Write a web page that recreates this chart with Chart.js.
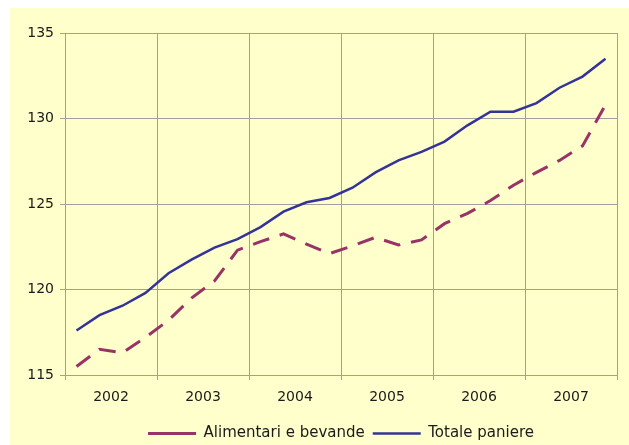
<!DOCTYPE html>
<html>
<head>
<meta charset="utf-8">
<script src="https://cdn.jsdelivr.net/npm/chart.js@4"></script>
<style>
  html, body { margin: 0; padding: 0; background: #ffffff; }
  #wrap { position: absolute; left: 10px; top: 8px; width: 619px; height: 437px; background: #FFFFCC; }
</style>
</head>
<body>
<div id="wrap"><canvas id="c" width="619" height="437"></canvas></div>
<script>
// Indici trimestrali 2002-2007
const years = ['2002', '2003', '2004', '2005', '2006', '2007'];
const alimentari = [115.5, 116.5, 116.3, 117.2, 118.2, 119.5, 120.5, 122.3,
                    122.8, 123.25, 122.65, 122.1, 122.55, 123.05, 122.6, 122.9,
                    123.85, 124.45, 125.2, 126.1, 126.85, 127.55, 128.4, 130.8];
const totale = [117.6, 118.5, 119.05, 119.8, 120.95, 121.75, 122.45, 122.95,
                123.65, 124.55, 125.1, 125.35, 125.95, 126.85, 127.55, 128.05,
                128.65, 129.6, 130.4, 130.4, 130.9, 131.8, 132.45, 133.5];
const yTicks = [115, 120, 125, 130, 135];

const toPoints = arr => arr.map((v, i) => ({ x: i + 0.5, y: v }));
const GRID = '#a0a0a0';
const TICK_FONT = { family: 'DejaVu Sans', size: 14 };
const LEGEND_FONT = { family: 'DejaVu Sans', size: 15 };

new Chart(document.getElementById('c'), {
  type: 'line',
  data: {
    datasets: [
      {
        label: 'Alimentari e bevande',
        data: toPoints(alimentari),
        borderColor: '#993366',
        backgroundColor: '#993366',
        borderWidth: 3,
        borderDash: [17, 11],
        pointRadius: 0,
        tension: 0
      },
      {
        label: 'Totale paniere',
        data: toPoints(totale),
        borderColor: '#333399',
        backgroundColor: '#333399',
        borderWidth: 2.5,
        pointRadius: 0,
        tension: 0
      }
    ]
  },
  options: {
    responsive: false,
    animation: false,
    layout: { padding: { left: 0, top: 25, right: 12, bottom: -6 } },
    plugins: {
      tooltip: { enabled: false },
      legend: {
        position: 'bottom',
        fullSize: false,
        labels: {
          usePointStyle: true,
          pointStyle: 'line',
          pointStyleWidth: 48,
          padding: 8,
          color: '#1a1a1a',
          font: LEGEND_FONT
        }
      }
    },
    scales: {
      x: {
        type: 'linear',
        min: 0,
        max: years.length * 4,
        afterBuildTicks: s => {
          const t = [];
          for (let v = 0; v <= years.length * 4; v += 2) t.push({ value: v });
          s.ticks = t;
        },
        afterFit: s => { s.height = 43; },
        grid: {
          color: c => (c.tick && c.tick.value % 4 === 0) ? GRID : 'rgba(0,0,0,0)',
          tickColor: c => (c.tick && c.tick.value % 4 === 0) ? GRID : 'rgba(0,0,0,0)',
          tickLength: 5,
          lineWidth: 1
        },
        border: { color: GRID, width: 1 },
        ticks: {
          autoSkip: false,
          maxRotation: 0,
          padding: 9,
          color: '#1a1a1a',
          font: TICK_FONT,
          callback: v => (v % 4 === 2) ? years[(v - 2) / 4] : ''
        }
      },
      y: {
        min: 115,
        max: 135,
        afterBuildTicks: s => { s.ticks = yTicks.map(v => ({ value: v })); },
        afterFit: s => { s.width = 55; },
        grid: { color: GRID, tickColor: GRID, tickLength: 5, lineWidth: 1 },
        border: { color: GRID, width: 1 },
        ticks: { padding: 6, color: '#1a1a1a', font: TICK_FONT }
      }
    }
  }
});
</script>
</body>
</html>
